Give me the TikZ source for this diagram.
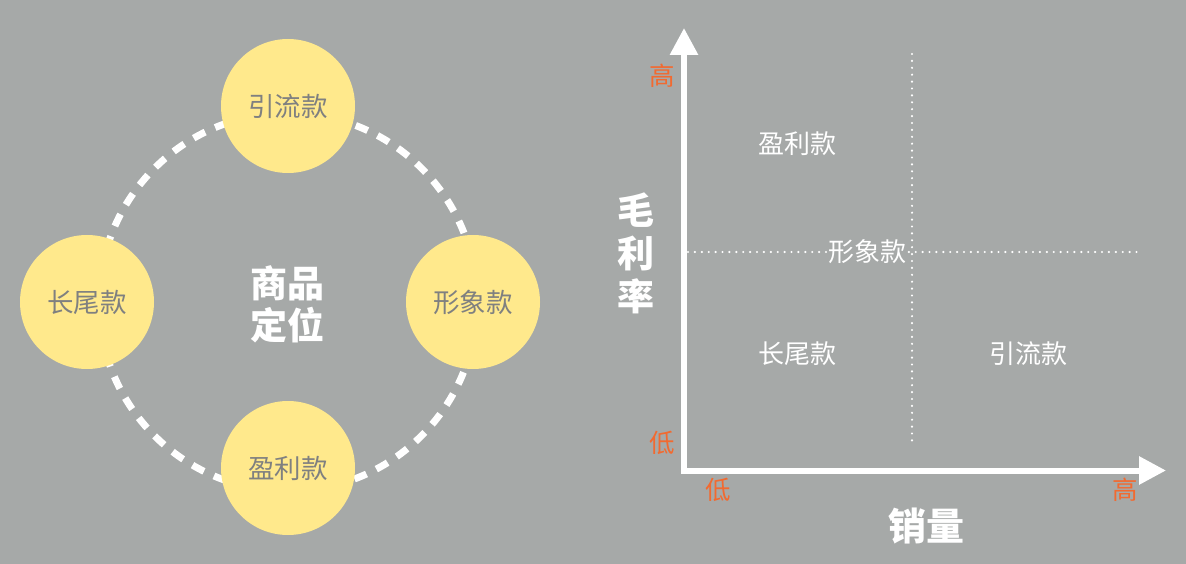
\documentclass[tikz,border=0pt]{standalone}
\usepackage{fontspec}
\setmainfont{Noto Sans CJK SC}
\usepackage{xcolor}
\usepackage{tikz}
\usetikzlibrary{positioning,arrows.meta}
\definecolor{bgGray}{HTML}{A6A9A8}
\definecolor{ballYellow}{HTML}{FFE98C}
\definecolor{ballText}{HTML}{7F8080}
\definecolor{tickOrange}{HTML}{F26A30}
\tikzset{
  ball/.style={circle,fill=ballYellow,minimum size=134pt,inner sep=0pt,text=ballText,font=\fontsize{26.5}{30}\selectfont},
  ring/.style={white,line width=7pt,dash pattern=on 13pt off 11pt},
  title/.style={text=white,align=center,font=\fontsize{37}{42}\selectfont\bfseries},
  quad/.style={text=white,inner sep=0pt,font=\fontsize{26}{30}\selectfont},
  tick/.style={text=tickOrange,inner sep=0pt,font=\fontsize{25.5}{28}\selectfont},
  axis/.style={white,line width=6pt,{Triangle[width=27pt,length=27pt]}-{Triangle[width=27pt,length=27pt]}},
  grid/.style={white,line width=2.4pt,line cap=round,dash pattern=on 0pt off 6.9pt},
}
\begin{document}
\begin{tikzpicture}[x=1pt,y=-1pt]
\fill[bgGray] (0,0) rectangle (1186,564);
\useasboundingbox (0,0) rectangle (1186,564);
% left: product roles
\node[title] (hub) at (287,304) {商品\\定位};
\draw[ring] (288,302) circle (189);
\node[ball] (traffic) at (288,106) {引流款};
\node[ball] (tail) at (87,302) {长尾款};
\node[ball] (image) at (473,302) {形象款};
\node[ball] (profit) at (288,468) {盈利款};
% right: margin vs. sales
\coordinate (origin) at (684,470.5);
\coordinate (ytop) at (684,28);
\coordinate (xend) at (1166,470.5);
\coordinate (vtop) at (912,54);
\coordinate (vbot) at (912,446);
\coordinate (hleft) at (688,252);
\coordinate (hright) at (1142,252);
\draw[grid] (vtop) -- (vbot);
\draw[grid] (hleft) -- (hright);
\draw[axis] (ytop) -- (origin) -- (xend);
\node[quad] (qprofit) at (797.5,144) {盈利款};
\node[quad,fill=bgGray] (qimage) at (867.5,252) {形象款};
\node[quad] (qtail) at (797.5,354) {长尾款};
\node[quad] (qtraffic) at (1028,354) {引流款};
\node[tick] (yhigh) at (662,76) {高};
\node[tick] (ylow) at (662,443) {低};
\node[tick] (xlow) at (718,490) {低};
\node[tick] (xhigh) at (1125,490) {高};
\node[title,inner sep=0pt,font=\fontsize{37}{43}\selectfont\bfseries] (ylabel) at (635.5,253) {毛\\利\\率};
\node[title,inner sep=0pt,font=\fontsize{38}{42}\selectfont\bfseries] (xlabel) at (926,526) {销量};
\end{tikzpicture}
\end{document}
